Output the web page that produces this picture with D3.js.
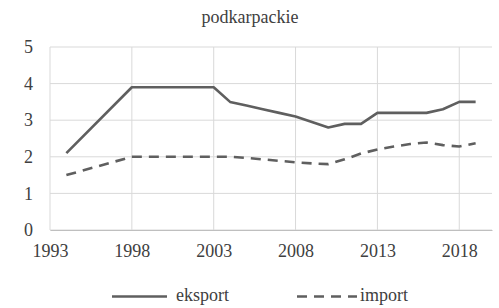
<!DOCTYPE html>
<html>
<head>
<meta charset="utf-8">
<script src="https://cdn.jsdelivr.net/npm/d3@7"></script>
</head>
<body style="margin:0">
<svg width="499" height="308"></svg>
<script>
// Data
var years = [1994, 1998, 2003, 2004, 2005, 2006, 2007, 2008, 2009, 2010, 2011, 2012, 2013, 2014, 2015, 2016, 2017, 2018, 2019];
var eksport = [2.1, 3.9, 3.9, 3.5, 3.4, 3.3, 3.2, 3.1, 2.95, 2.8, 2.9, 2.9, 3.2, 3.2, 3.2, 3.2, 3.3, 3.5, 3.5];
var importVals = [1.5, 2.0, 2.0, 2.0, 1.97, 1.93, 1.89, 1.85, 1.82, 1.8, 1.93, 2.09, 2.2, 2.28, 2.35, 2.39, 2.32, 2.28, 2.37];
var xTicks = [1993, 1998, 2003, 2008, 2013, 2018];
var yTicks = [0, 1, 2, 3, 4, 5];
var title = 'podkarpackie';

var svg = d3.select('svg');
var padding = {t: 47, r: 7, b: 78, l: 50};
var chartWidth = 499 - padding.l - padding.r;
var chartHeight = 308 - padding.t - padding.b;

var x = d3.scaleLinear().domain([1993, 2020]).range([0, chartWidth]);
var y = d3.scaleLinear().domain([0, 5]).range([chartHeight, 0]);

var chartG = svg.append('g')
    .attr('transform', 'translate(' + [padding.l, padding.t] + ')');

// gridlines
chartG.selectAll('.hgrid').data(yTicks).enter().append('line')
    .attr('x1', 0).attr('x2', chartWidth)
    .attr('y1', d => y(d)).attr('y2', d => y(d))
    .attr('stroke', '#d9d9d9').attr('stroke-width', 1);
chartG.selectAll('.vgrid').data(xTicks).enter().append('line')
    .attr('x1', d => x(d)).attr('x2', d => x(d))
    .attr('y1', 0).attr('y2', chartHeight)
    .attr('stroke', '#d9d9d9').attr('stroke-width', 1);

// axes: only the bottom line and labels
var yAxisG = chartG.append('g')
    .call(d3.axisLeft(y).tickValues(yTicks).tickFormat(d3.format('d')).tickSize(0).tickPadding(17));
yAxisG.select('.domain').remove();

var xAxisG = chartG.append('g')
    .attr('transform', 'translate(0,' + chartHeight + ')')
    .call(d3.axisBottom(x).tickValues(xTicks).tickFormat(d3.format('d')).tickSize(0).tickPadding(14));
xAxisG.select('.domain').attr('stroke', '#bfbfbf');

// lines
var line = d3.line().x(d => x(d[0])).y(d => y(d[1]));
chartG.append('path')
    .datum(d3.zip(years, eksport))
    .attr('d', line)
    .attr('fill', 'none').attr('stroke', '#5f5f5f').attr('stroke-width', 2.6)
    .attr('stroke-linejoin', 'round');
chartG.append('path')
    .datum(d3.zip(years, importVals))
    .attr('d', line)
    .attr('fill', 'none').attr('stroke', '#5f5f5f').attr('stroke-width', 2.6)
    .attr('stroke-dasharray', '10,7');

// title
svg.append('text')
    .attr('x', 250).attr('y', 23)
    .attr('text-anchor', 'middle')
    .text(title);

// legend
svg.append('line').attr('x1', 112).attr('x2', 167).attr('y1', 296.5).attr('y2', 296.5)
    .attr('stroke', '#5f5f5f').attr('stroke-width', 2.6);
svg.append('text').attr('x', 176).attr('y', 301).text('eksport');
svg.append('line').attr('x1', 297).attr('x2', 357).attr('y1', 296.5).attr('y2', 296.5)
    .attr('stroke', '#5f5f5f').attr('stroke-width', 2.6).attr('stroke-dasharray', '10,7');
svg.append('text').attr('x', 360).attr('y', 301).text('import');

// same serif font for every text
svg.selectAll('text')
    .style('font-family', "'Liberation Serif'")
    .attr('font-size', 18)
    .attr('fill', '#404040');
</script>
</body>
</html>
